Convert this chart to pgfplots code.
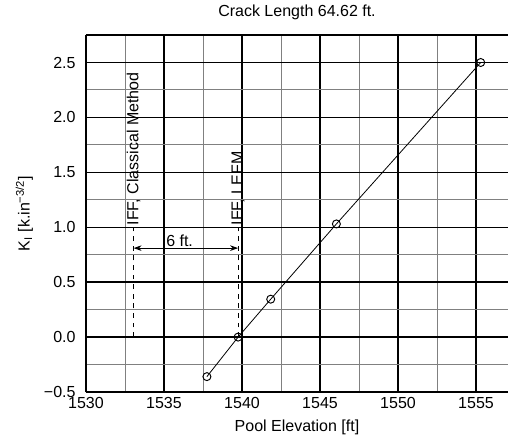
\documentclass[border=0pt]{standalone}
\usepackage{fontspec}
\setmainfont{Liberation Sans}
\usepackage{pgfplots}
\pgfplotsset{compat=1.18}
\usetikzlibrary{arrows.meta}
\begin{document}
\begin{tikzpicture}
\begin{axis}[
  name=ax,
  scale only axis,
  width=263.75pt, height=223.1pt,
  xmin=1530, xmax=1557.05,
  ymin=-0.5, ymax=2.75,
  xtick={1530,1535,1540,1545,1550,1555},
  xticklabels={1530,1535,1540,1545,1550,1555},
  ytick={-0.5,0,0.5,1,1.5,2,2.5},
  yticklabels={−0.5,0.0,0.5,1.0,1.5,2.0,2.5},
  minor xtick={1532.5,1537.5,1542.5,1547.5,1552.5},
  minor ytick={-0.25,0.25,0.75,1.25,1.75,2.25},
  major tick length=0pt, minor tick length=0pt,
  grid=both,
  major grid style={black, line width=0.9pt},
  minor grid style={black!50, line width=0.6pt},
  axis x line*=box, axis y line*=left,
  axis line style={line width=1.2pt, -},
  yticklabel style={xshift=-3pt},
  title={Crack Length 64.62 ft.},
  xlabel={Pool Elevation [ft]},
  ylabel={K\textsubscript{I} [k.in\textsuperscript{−3/2}]},
  clip=false,
]
\addplot[black, line width=0.5pt, mark=o, mark size=2.5pt, mark options={line width=0.6pt}]
  coordinates {(1537.75,-0.36) (1539.75,0.0) (1541.84,0.345) (1546.05,1.03) (1555.3,2.5)};
\addplot[black, line width=0.6pt, dash pattern=on 3pt off 3pt]
  coordinates {(1533.05,0) (1533.05,1.0)};
\addplot[black, line width=0.6pt, dash pattern=on 3pt off 3pt]
  coordinates {(1539.75,0) (1539.75,1.0)};
\draw[{Stealth[length=5pt,width=3.5pt]}-{Stealth[length=5pt,width=3.5pt]}, line width=0.6pt]
  (axis cs:1533.05,0.81) -- (axis cs:1539.75,0.81);
\node[anchor=south, inner sep=1pt] at (axis cs:1536.0,0.81) {6 ft.};
\node[rotate=90, anchor=west, inner sep=1pt] at (axis cs:1533.05,1.0) {IFF, Classical Method};
\node[rotate=90, anchor=west, inner sep=1pt] at (axis cs:1539.75,1.0) {IFF, LEFM};
\end{axis}
\pgfresetboundingbox
\path[use as bounding box] ([xshift=-53.75pt,yshift=-28.1pt]ax.south west) rectangle ([yshift=21.9pt]ax.north east);
\end{tikzpicture}
\end{document}
